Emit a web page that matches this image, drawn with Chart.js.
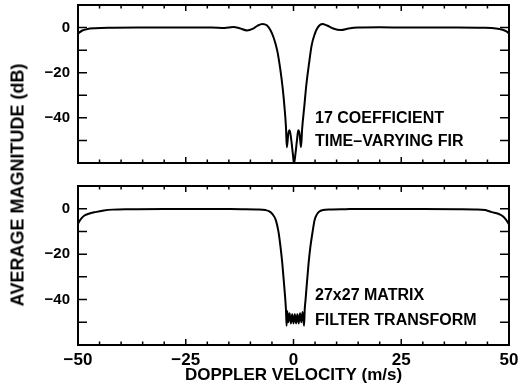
<!DOCTYPE html>
<html>
<head>
<meta charset="utf-8">
<script src="https://cdn.jsdelivr.net/npm/chart.js@4.4.1/dist/chart.umd.min.js"></script>
<style>
  html, body { margin: 0; padding: 0; background: #fff; }
  #wrap { position: relative; width: 521px; height: 390px; font-family: "Liberation Sans", Arial, sans-serif; }
  #topCanvas { position: absolute; left: 0; top: 0; }
  #bottomCanvas { position: absolute; left: 0; top: 170px; }
  #yTitle {
    position: absolute; left: 18px; top: 185px;
    transform: translate(-50%, -50%) rotate(-90deg);
    white-space: nowrap; font-size: 18px; font-weight: bold; color: #000;
  }
</style>
</head>
<body>
<div id="wrap">
  <canvas id="topCanvas" width="521" height="170"></canvas>
  <canvas id="bottomCanvas" width="521" height="220"></canvas>
  <div id="yTitle">AVERAGE MAGNITUDE (dB)</div>
</div>
<script>
// top panel: 17 coefficient time-varying FIR
const firVelocity = [-50, -49, -48, -46, -42, -36, -30, -24, -19, -16, -14, -12.5, -10.8, -9.5, -8.3, -7.2, -6.2, -5.4, -4.6, -3.8, -3.1, -2.5, -2.1, -1.75, -1.55, -1.2, -0.9, -0.5, -0.15, 0.15, 0.45, 0.8, 1.1, 1.4, 1.75, 2.0, 2.5, 3.0, 3.6, 4.2, 4.9, 5.6, 6.7, 7.8, 9.2, 11, 12.8, 15, 20, 26, 32, 38, 44, 47, 48.5, 49.3, 50];
const firMagnitude = [-2.6, -1.3, -0.7, -0.3, -0.1, 0, 0, 0, 0, -0.2, 0.2, -0.3, -1.3, -0.6, 0.9, 1.6, 1.0, -1.0, -4.5, -10, -18, -27, -35, -44, -53, -47, -45.5, -50, -56, -60, -56, -50, -45.5, -47, -53, -45, -35, -25, -16, -8, -3, 0, 1.6, 0.9, -0.4, -1.1, -0.4, 0, 0.1, 0, 0, 0, -0.1, -0.4, -1.0, -1.6, -2.6];

// bottom panel: 27x27 matrix filter transform
const matrixVelocity = [-50, -49.3, -48.5, -47.5, -46, -44, -42, -38, -30, -20, -12, -8, -6.5, -5.6, -4.8, -4.1, -3.5, -3.0, -2.6, -2.2, -1.9, -1.75, -1.6, -1.45, -1.2, -0.9, -0.6, -0.3, 0, 0.3, 0.6, 0.9, 1.2, 1.5, 1.8, 2.1, 2.45, 2.6, 2.8, 3.1, 3.5, 3.9, 4.4, 4.9, 5.4, 6.0, 6.8, 8.5, 12, 20, 30, 38, 42, 44.5, 46, 47.5, 48.5, 49.3, 50];
const matrixMagnitude = [-6.5, -4.5, -3.0, -2.2, -1.5, -0.8, -0.4, -0.2, -0.1, -0.1, -0.2, -0.3, -0.6, -1.2, -2.6, -5, -10, -17, -24, -33, -40, -44.5, -51.5, -45, -50, -46, -50.5, -46.5, -50.5, -46.5, -50.5, -46.5, -50.5, -46, -50, -45.5, -51.5, -44.5, -40, -33, -24, -17, -10.5, -5, -2.6, -1.2, -0.6, -0.3, -0.2, -0.1, -0.1, -0.2, -0.3, -0.6, -1.5, -2.2, -3.2, -4.8, -6.8];

const yLabelled = [0, -20, -40];
const xLabelled = [-50, -25, 0, 25, 50];

const FONT = '"Liberation Sans", Arial, sans-serif';
const fmt = v => v < 0 ? '\u2212' + Math.abs(v) : String(v);

// box, inward ticks on all four sides, and the panel notes
const frameTicks = {
  id: 'frameTicks',
  afterDatasetsDraw(chart, args, opts) {
    const { ctx, chartArea: a, scales: { x, y } } = chart;
    ctx.save();
    ctx.strokeStyle = '#000';
    ctx.lineWidth = 1.5;
    ctx.beginPath();
    x.ticks.forEach(t => {
      const px = x.getPixelForValue(t.value);
      const len = t.value % 25 === 0 ? 6 : 3.5;
      ctx.moveTo(px, a.bottom); ctx.lineTo(px, a.bottom - len);
      ctx.moveTo(px, a.top); ctx.lineTo(px, a.top + len);
    });
    y.ticks.forEach(t => {
      const py = y.getPixelForValue(t.value);
      ctx.moveTo(a.left, py); ctx.lineTo(a.left + 9, py);
      ctx.moveTo(a.right, py); ctx.lineTo(a.right - 9, py);
    });
    ctx.stroke();
    ctx.lineWidth = 2;
    ctx.strokeRect(a.left, a.top, a.right - a.left, a.bottom - a.top);

    ctx.fillStyle = '#000';
    ctx.font = 'bold 16px ' + FONT;
    ctx.textBaseline = 'middle';
    (opts.notes || []).forEach(n => {
      ctx.fillText(n.text, x.getPixelForValue(n.x), y.getPixelForValue(n.y));
    });
    ctx.restore();
  }
};

function makeChart(id, xs, ys, notes, showX) {
  return new Chart(document.getElementById(id), {
    type: 'line',
    data: {
      datasets: [{
        data: xs.map((v, i) => ({ x: v, y: ys[i] })),
        borderColor: '#000',
        borderWidth: 2,
        pointRadius: 0,
        cubicInterpolationMode: 'monotone',
        fill: false
      }]
    },
    options: {
      responsive: false,
      animation: false,
      layout: { padding: showX ? { top: 16, right: 12, bottom: 0, left: 0 } : { top: 5, right: 12, bottom: 7, left: 0 } },
      plugins: {
        legend: { display: false },
        tooltip: { enabled: false },
        frameTicks: { notes: notes }
      },
      scales: {
        x: {
          type: 'linear', min: -50, max: 50,
          grid: { display: false, drawTicks: false },
          border: { display: false },
          ticks: {
            display: showX, stepSize: 5, autoSkip: false, maxRotation: 0, padding: 5,
            color: '#000', font: { family: FONT, size: 17, weight: 'bold' },
            callback: v => xLabelled.includes(v) ? fmt(v) : ''
          },
          title: {
            display: showX, text: 'DOPPLER VELOCITY (m/s)', color: '#000',
            font: { family: FONT, size: 17, weight: 'bold' }, padding: { top: 0, bottom: 4 }
          },
          afterFit: s => { s.height = showX ? 45 : 0; s.paddingLeft = 0; s.paddingRight = 0; }
        },
        y: {
          min: -60, max: 10,
          grid: { display: false, drawTicks: false },
          border: { display: false },
          ticks: {
            stepSize: 10, autoSkip: false, padding: 8,
            color: '#000', font: { family: FONT, size: 15, weight: 'bold' },
            callback: v => yLabelled.includes(v) ? fmt(v) : ''
          },
          afterFit: s => { s.width = 78; s.paddingTop = 0; s.paddingBottom = 0; }
        }
      }
    },
    plugins: [frameTicks]
  });
}

makeChart('topCanvas', firVelocity, firMagnitude,
  [{ text: '17 COEFFICIENT', x: 5, y: -40.5 }, { text: 'TIME\u2013VARYING FIR', x: 5, y: -50.3 }], false);
makeChart('bottomCanvas', matrixVelocity, matrixMagnitude,
  [{ text: '27x27 MATRIX', x: 5, y: -38.3 }, { text: 'FILTER TRANSFORM', x: 5, y: -49.3 }], true);
</script>
</body>
</html>
